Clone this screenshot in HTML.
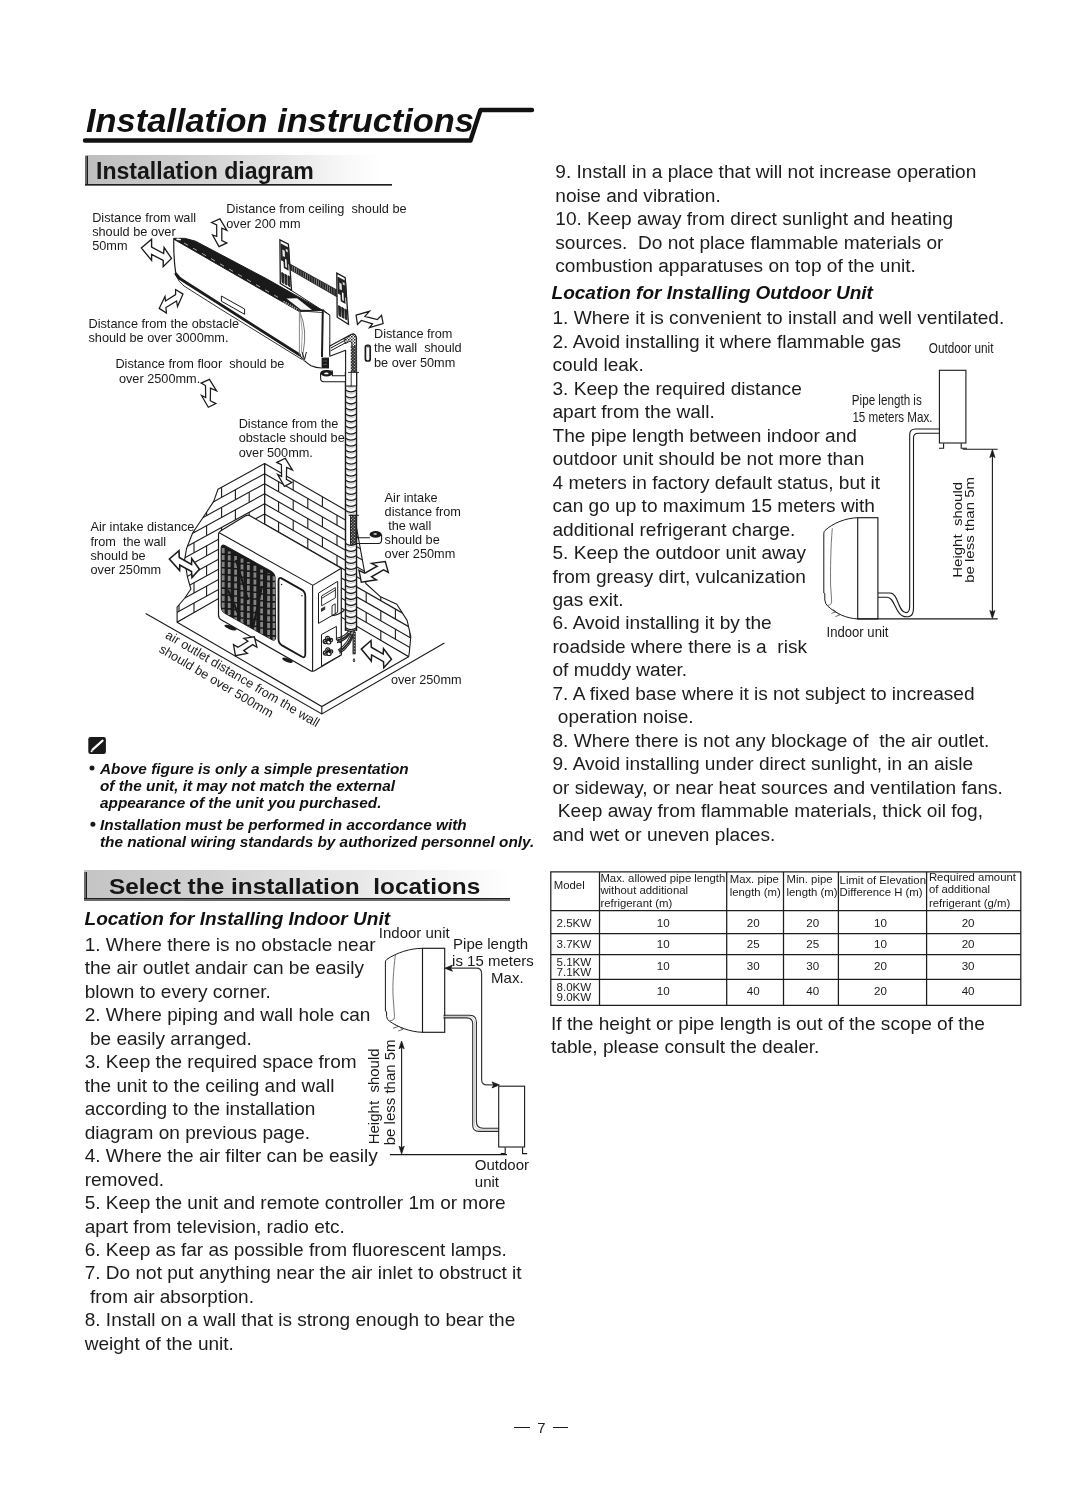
<!DOCTYPE html>
<html>
<head>
<meta charset="utf-8">
<title>Installation instructions</title>
<style>
html,body{margin:0;padding:0;background:#fff;}
body{filter:grayscale(1);}
body{width:1083px;height:1508px;position:relative;overflow:hidden;font-family:"Liberation Sans",sans-serif;color:#1a1a1a;}
.abs{position:absolute;white-space:pre;margin:0;}
.body{font-size:19.08px;line-height:23.42px;color:#1c1c1c;}
.h1{font-size:34px;font-weight:bold;font-style:italic;line-height:40px;color:#111;transform:scaleX(1.0118);transform-origin:0 0;}
.sec{position:absolute;box-sizing:border-box;}
.sec .bar{position:absolute;left:0;top:1.4px;bottom:0;width:2.8px;background:linear-gradient(90deg,#6a6a6a 0,#6a6a6a 68%,#1e1e1e 68%,#1e1e1e 100%);}
.sec .line{position:absolute;left:0;right:0;bottom:0;height:2.4px;}
.sec .txt{position:absolute;font-weight:bold;white-space:pre;color:#161616;}
.sub{font-size:19.05px;font-weight:bold;font-style:italic;line-height:23px;color:#111;}
.note{font-size:15.25px;font-weight:bold;font-style:italic;line-height:17.2px;color:#111;transform:scaleX(1.0063);transform-origin:0 0;}
svg{position:absolute;left:0;top:0;overflow:visible;}
svg text{font-family:"Liberation Sans",sans-serif;fill:#1a1a1a;}
</style>
</head>
<body>

<!-- ===== Title ===== -->
<div class="abs h1" id="title" style="left:86px;top:99.8px;">Installation instructions</div>
<svg width="1083" height="1508" viewBox="0 0 1083 1508" id="titleline">
  <path d="M85 140.5 L470.5 140.5 L480.5 110 L532 110" fill="none" stroke="#111" stroke-width="4.4" stroke-linecap="round" stroke-linejoin="round"/>
</svg>

<!-- ===== Section header 1 ===== -->
<div class="sec" id="sec1" style="left:85px;top:154.8px;width:307px;height:31.6px;background:linear-gradient(90deg,#bdbdbd 0%,#cccccc 30%,#e2e2e2 60%,#f8f8f8 85%,#ffffff 97%);">
  <div class="bar"></div>
  <div class="line" style="background:linear-gradient(180deg,#1e1e1e 0,#1e1e1e 38%,#6a6a6a 38%,#6a6a6a 100%);"></div>
  <div class="txt" style="left:11.2px;top:3.4px;font-size:23.3px;line-height:26px;transform:scaleX(0.99);transform-origin:0 0;">Installation diagram</div>
</div>

<!-- ===== Installation diagram (figure) ===== -->
<svg width="1083" height="1508" viewBox="0 0 1083 1508" id="diag1">
<!--DIAG1:start-->
<defs><clipPath id="clL"><polygon points="264.6,463.6 218.0,489.2 213.7,501.4 206.7,512.0 192.6,533.0 186.5,548.8 184.7,559.3 187.4,576.8 190.9,589.0 184.5,598.5 177.1,607.0 177.1,622.2 264.6,572.1"/></clipPath><clipPath id="clR"><polygon points="264.6,463.6 355.0,515.5 356.3,526.5 364.4,571.2 365.8,583.5 380.6,596.8 396.8,604.2 407.1,620.4 410.8,636.7 409.4,651.5 408.7,656.8 264.6,572.1"/></clipPath></defs>
<polygon points="264.6,463.6 218.0,489.2 213.7,501.4 206.7,512.0 192.6,533.0 186.5,548.8 184.7,559.3 187.4,576.8 190.9,589.0 184.5,598.5 177.1,607.0 177.1,622.2 264.6,572.1" fill="#fff" stroke="#1a1a1a" stroke-width="1.1" stroke-linejoin="round"/>
<polygon points="264.6,463.6 355.0,515.5 356.3,526.5 364.4,571.2 365.8,583.5 380.6,596.8 396.8,604.2 407.1,620.4 410.8,636.7 409.4,651.5 408.7,656.8 264.6,572.1" fill="#fff" stroke="#1a1a1a" stroke-width="1.1" stroke-linejoin="round"/>
<g clip-path="url(#clL)" stroke="#1a1a1a" stroke-width="1.1" fill="none"><path d="M264.6 473.7 L150.0 536.7"/><path d="M264.6 483.7 L150.0 546.7"/><path d="M264.6 493.8 L150.0 556.8"/><path d="M264.6 503.8 L150.0 566.8"/><path d="M264.6 513.9 L150.0 576.9"/><path d="M264.6 523.9 L150.0 586.9"/><path d="M264.6 534.0 L150.0 597.0"/><path d="M264.6 544.0 L150.0 607.0"/><path d="M264.6 554.1 L150.0 617.1"/><path d="M264.6 564.1 L150.0 627.1"/><path d="M264.6 574.2 L150.0 637.2"/><path d="M264.6 584.2 L150.0 647.2"/><path d="M264.6 594.2 L150.0 657.3"/><path d="M264.6 604.3 L150.0 667.3"/><path d="M264.6 614.4 L150.0 677.4"/><path d="M221.6 487.3 L221.6 497.3"/><path d="M206.6 505.6 L206.6 515.6"/><path d="M235.4 489.7 L235.4 499.8"/><path d="M179.0 520.7 L179.0 530.8"/><path d="M221.6 507.4 L221.6 517.4"/><path d="M249.2 492.2 L249.2 502.2"/><path d="M194.0 522.5 L194.0 532.6"/><path d="M166.4 537.7 L166.4 547.8"/><path d="M206.6 525.7 L206.6 535.7"/><path d="M235.4 509.8 L235.4 519.9"/><path d="M179.0 540.8 L179.0 550.9"/><path d="M221.6 527.5 L221.6 537.5"/><path d="M249.2 512.3 L249.2 522.3"/><path d="M194.0 542.6 L194.0 552.7"/><path d="M166.4 557.8 L166.4 567.9"/><path d="M206.6 545.8 L206.6 555.8"/><path d="M235.4 529.9 L235.4 540.0"/><path d="M179.0 560.9 L179.0 571.0"/><path d="M221.6 547.6 L221.6 557.6"/><path d="M249.2 532.4 L249.2 542.4"/><path d="M194.0 562.7 L194.0 572.8"/><path d="M166.4 577.9 L166.4 588.0"/><path d="M206.6 565.9 L206.6 575.9"/><path d="M235.4 550.0 L235.4 560.1"/><path d="M179.0 581.0 L179.0 591.1"/><path d="M221.6 567.7 L221.6 577.7"/><path d="M249.2 552.5 L249.2 562.5"/><path d="M194.0 582.8 L194.0 592.9"/><path d="M166.4 598.0 L166.4 608.1"/><path d="M206.6 586.0 L206.6 596.0"/><path d="M235.4 570.1 L235.4 580.2"/><path d="M179.0 601.1 L179.0 611.2"/><path d="M221.6 587.8 L221.6 597.8"/><path d="M249.2 572.6 L249.2 582.6"/><path d="M194.0 602.9 L194.0 613.0"/><path d="M166.4 618.1 L166.4 628.2"/><path d="M206.6 606.1 L206.6 616.1"/><path d="M235.4 590.2 L235.4 600.3"/><path d="M179.0 621.2 L179.0 631.3"/><path d="M221.6 607.9 L221.6 617.9"/><path d="M249.2 592.7 L249.2 602.7"/><path d="M194.0 623.0 L194.0 633.1"/><path d="M166.4 638.2 L166.4 648.3"/><path d="M206.6 626.2 L206.6 636.2"/><path d="M235.4 610.3 L235.4 620.4"/><path d="M179.0 641.3 L179.0 651.4"/><path d="M221.6 628.0 L221.6 638.0"/><path d="M249.2 612.8 L249.2 622.8"/><path d="M194.0 643.1 L194.0 653.2"/><path d="M166.4 658.3 L166.4 668.4"/><path d="M206.6 646.2 L206.6 656.3"/><path d="M235.4 630.4 L235.4 640.5"/><path d="M179.0 661.4 L179.0 671.5"/></g>
<g clip-path="url(#clR)" stroke="#1a1a1a" stroke-width="1.1" fill="none"><path d="M264.6 473.7 L430.0 568.6"/><path d="M264.6 483.7 L430.0 578.6"/><path d="M264.6 493.8 L430.0 588.7"/><path d="M264.6 503.8 L430.0 598.7"/><path d="M264.6 513.9 L430.0 608.8"/><path d="M264.6 523.9 L430.0 618.8"/><path d="M264.6 534.0 L430.0 628.9"/><path d="M264.6 544.0 L430.0 638.9"/><path d="M264.6 554.1 L430.0 649.0"/><path d="M264.6 564.1 L430.0 659.0"/><path d="M264.6 574.2 L430.0 669.1"/><path d="M264.6 584.2 L430.0 679.1"/><path d="M264.6 594.2 L430.0 689.2"/><path d="M264.6 604.3 L430.0 699.2"/><path d="M264.6 614.4 L430.0 709.3"/><path d="M264.6 624.4 L430.0 719.3"/><path d="M264.6 634.5 L430.0 729.4"/><path d="M264.6 644.5 L430.0 739.4"/><path d="M264.6 654.6 L430.0 749.5"/><path d="M293.2 480.0 L293.2 490.1"/><path d="M322.4 496.8 L322.4 506.8"/><path d="M351.6 513.5 L351.6 523.6"/><path d="M380.8 530.3 L380.8 540.3"/><path d="M410.0 547.1 L410.0 557.1"/><path d="M439.2 563.8 L439.2 573.9"/><path d="M278.6 481.7 L278.6 491.7"/><path d="M307.8 498.4 L307.8 508.5"/><path d="M337.0 515.2 L337.0 525.3"/><path d="M366.2 532.0 L366.2 542.0"/><path d="M395.4 548.7 L395.4 558.8"/><path d="M424.6 565.5 L424.6 575.5"/><path d="M293.2 500.1 L293.2 510.2"/><path d="M322.4 516.9 L322.4 526.9"/><path d="M351.6 533.6 L351.6 543.7"/><path d="M380.8 550.4 L380.8 560.4"/><path d="M410.0 567.2 L410.0 577.2"/><path d="M439.2 583.9 L439.2 594.0"/><path d="M278.6 501.8 L278.6 511.8"/><path d="M307.8 518.5 L307.8 528.6"/><path d="M337.0 535.3 L337.0 545.4"/><path d="M366.2 552.1 L366.2 562.1"/><path d="M395.4 568.8 L395.4 578.9"/><path d="M424.6 585.6 L424.6 595.6"/><path d="M293.2 520.2 L293.2 530.3"/><path d="M322.4 537.0 L322.4 547.0"/><path d="M351.6 553.7 L351.6 563.8"/><path d="M380.8 570.5 L380.8 580.5"/><path d="M410.0 587.3 L410.0 597.3"/><path d="M439.2 604.0 L439.2 614.1"/><path d="M278.6 521.9 L278.6 531.9"/><path d="M307.8 538.6 L307.8 548.7"/><path d="M337.0 555.4 L337.0 565.5"/><path d="M366.2 572.2 L366.2 582.2"/><path d="M395.4 588.9 L395.4 599.0"/><path d="M424.6 605.7 L424.6 615.7"/><path d="M293.2 540.3 L293.2 550.4"/><path d="M322.4 557.1 L322.4 567.1"/><path d="M351.6 573.8 L351.6 583.9"/><path d="M380.8 590.6 L380.8 600.6"/><path d="M410.0 607.4 L410.0 617.4"/><path d="M439.2 624.1 L439.2 634.2"/><path d="M278.6 542.0 L278.6 552.0"/><path d="M307.8 558.7 L307.8 568.8"/><path d="M337.0 575.5 L337.0 585.6"/><path d="M366.2 592.3 L366.2 602.3"/><path d="M395.4 609.0 L395.4 619.1"/><path d="M424.6 625.8 L424.6 635.8"/><path d="M293.2 560.4 L293.2 570.5"/><path d="M322.4 577.2 L322.4 587.2"/><path d="M351.6 593.9 L351.6 604.0"/><path d="M380.8 610.7 L380.8 620.7"/><path d="M410.0 627.5 L410.0 637.5"/><path d="M439.2 644.2 L439.2 654.3"/><path d="M278.6 562.1 L278.6 572.1"/><path d="M307.8 578.8 L307.8 588.9"/><path d="M337.0 595.6 L337.0 605.7"/><path d="M366.2 612.4 L366.2 622.4"/><path d="M395.4 629.1 L395.4 639.2"/><path d="M424.6 645.9 L424.6 655.9"/><path d="M293.2 580.5 L293.2 590.6"/><path d="M322.4 597.3 L322.4 607.3"/><path d="M351.6 614.0 L351.6 624.1"/><path d="M380.8 630.8 L380.8 640.8"/><path d="M410.0 647.6 L410.0 657.6"/><path d="M439.2 664.3 L439.2 674.4"/><path d="M278.6 582.2 L278.6 592.2"/><path d="M307.8 598.9 L307.8 609.0"/><path d="M337.0 615.7 L337.0 625.8"/><path d="M366.2 632.5 L366.2 642.5"/><path d="M395.4 649.2 L395.4 659.3"/><path d="M424.6 666.0 L424.6 676.0"/><path d="M293.2 600.6 L293.2 610.7"/><path d="M322.4 617.4 L322.4 627.4"/><path d="M351.6 634.1 L351.6 644.2"/><path d="M380.8 650.9 L380.8 660.9"/><path d="M410.0 667.7 L410.0 677.7"/><path d="M439.2 684.4 L439.2 694.5"/><path d="M278.6 602.3 L278.6 612.3"/><path d="M307.8 619.0 L307.8 629.1"/><path d="M337.0 635.8 L337.0 645.9"/><path d="M366.2 652.6 L366.2 662.6"/><path d="M395.4 669.3 L395.4 679.4"/><path d="M424.6 686.1 L424.6 696.1"/><path d="M293.2 620.7 L293.2 630.8"/><path d="M322.4 637.5 L322.4 647.5"/><path d="M351.6 654.2 L351.6 664.3"/><path d="M380.8 671.0 L380.8 681.0"/><path d="M410.0 687.8 L410.0 697.8"/><path d="M439.2 704.5 L439.2 714.6"/><path d="M278.6 622.4 L278.6 632.4"/><path d="M307.8 639.1 L307.8 649.2"/><path d="M337.0 655.9 L337.0 666.0"/><path d="M366.2 672.7 L366.2 682.7"/><path d="M395.4 689.4 L395.4 699.5"/><path d="M424.6 706.2 L424.6 716.2"/><path d="M293.2 640.8 L293.2 650.9"/><path d="M322.4 657.6 L322.4 667.6"/><path d="M351.6 674.3 L351.6 684.4"/><path d="M380.8 691.1 L380.8 701.1"/><path d="M410.0 707.9 L410.0 717.9"/><path d="M439.2 724.6 L439.2 734.7"/><path d="M278.6 642.5 L278.6 652.5"/><path d="M307.8 659.2 L307.8 669.3"/><path d="M337.0 676.0 L337.0 686.1"/><path d="M366.2 692.8 L366.2 702.8"/><path d="M395.4 709.5 L395.4 719.6"/><path d="M424.6 726.3 L424.6 736.3"/><path d="M293.2 660.9 L293.2 671.0"/><path d="M322.4 677.7 L322.4 687.7"/><path d="M351.6 694.4 L351.6 704.5"/><path d="M380.8 711.2 L380.8 721.2"/><path d="M410.0 728.0 L410.0 738.0"/><path d="M439.2 744.7 L439.2 754.8"/><path d="M278.6 662.6 L278.6 672.6"/><path d="M307.8 679.3 L307.8 689.4"/><path d="M337.0 696.1 L337.0 706.2"/><path d="M366.2 712.9 L366.2 722.9"/><path d="M395.4 729.6 L395.4 739.7"/><path d="M424.6 746.4 L424.6 756.4"/></g>
<path d="M264.6 463.6 L264.6 573.7" stroke="#1a1a1a" stroke-width="1.2"/>
<path d="M145.7 613.4 L321.8 713.9 L444.4 643 M177.1 622.2 L321.8 706.5 L408.5 656.8 M321.8 706.5 L321.8 713.9" fill="none" stroke="#1a1a1a" stroke-width="1.1"/>
<path d="M218.5 534.5 Q218.5 532.3 220.5 531 L246 515.6 Q248 514.6 250 515.8 L341.3 568.3 L341.3 655.1 L315 670.6 Q312.6 672 310 670.4 L221.5 620 Q218.5 618.4 218.5 615 Z" fill="#fff" stroke="#1a1a1a" stroke-width="1.2" stroke-linejoin="round"/>
<path d="M219.2 532.8 L311.5 584.6 Q312.8 585.4 314 584.6 L341.3 568.3 M312.6 585.6 L312.6 671.2" fill="none" stroke="#1a1a1a" stroke-width="1.1"/>
<ellipse cx="230.5" cy="627.6" rx="6.5" ry="1.9" transform="rotate(20 230.5 627.6)" fill="#1a1a1a"/>
<ellipse cx="287.5" cy="660.2" rx="5.5" ry="1.9" transform="rotate(20 287.5 660.2)" fill="#1a1a1a"/>
<defs><clipPath id="clG"><path id="grill" d="M221.2 548.5 Q221.2 543.8 225 545.8 L271 571.3 Q275 573.8 275 578 L275.6 637 Q275.6 641.5 271.8 639.4 L225.5 613.5 Q221.2 611 221.2 606.5 Z"/></clipPath></defs>
<path d="M221.2 548.5 Q221.2 543.8 225 545.8 L271 571.3 Q275 573.8 275 578 L275.6 637 Q275.6 641.5 271.8 639.4 L225.5 613.5 Q221.2 611 221.2 606.5 Z" fill="#1c1a1a" stroke="#1a1a1a" stroke-width="1.2"/>
<g clip-path="url(#clG)"><path d="M223.2 548.1 L223.2 614.1" stroke="#838383" stroke-width="2.8" stroke-dasharray="5.2 1.6" stroke-dashoffset="0.0"/><path d="M229.2 551.4 L229.2 617.4" stroke="#838383" stroke-width="2.8" stroke-dasharray="5.2 1.6" stroke-dashoffset="2.9"/><path d="M235.6 555.0 L235.6 621.0" stroke="#838383" stroke-width="2.8" stroke-dasharray="5.2 1.6" stroke-dashoffset="5.8"/><path d="M242.0 558.5 L242.0 624.5" stroke="#838383" stroke-width="2.8" stroke-dasharray="5.2 1.6" stroke-dashoffset="0.9"/><path d="M248.4 562.1 L248.4 628.1" stroke="#838383" stroke-width="2.8" stroke-dasharray="5.2 1.6" stroke-dashoffset="3.8"/><path d="M254.9 565.7 L254.9 631.7" stroke="#838383" stroke-width="2.8" stroke-dasharray="5.2 1.6" stroke-dashoffset="6.7"/><path d="M261.6 569.4 L261.6 635.4" stroke="#838383" stroke-width="2.8" stroke-dasharray="5.2 1.6" stroke-dashoffset="1.8"/><path d="M268.6 573.3 L268.6 639.3" stroke="#838383" stroke-width="2.8" stroke-dasharray="5.2 1.6" stroke-dashoffset="4.7"/><path d="M274.0 576.3 L274.0 642.3" stroke="#838383" stroke-width="2.8" stroke-dasharray="5.2 1.6" stroke-dashoffset="7.6"/><path d="M236 560 L248 600 M262 586 L252 632 M228 590 L240 618" stroke="#1c1a1a" stroke-width="2.2"/></g>
<path d="M278.5 581 Q278.5 576.6 282 578.6 L301.5 589.6 Q305.3 591.8 305.3 596 L305.3 654 Q305.3 658.8 301.6 656.6 L282 645.4 Q278.5 643.2 278.5 639 Z" fill="#fff" stroke="#1a1a1a" stroke-width="1.8"/>
<circle cx="281.6" cy="584.5" r="0.7" fill="#1a1a1a"/><circle cx="302" cy="595.8" r="0.7" fill="#1a1a1a"/>
<path d="M318.5 593.1 L337.7 581.3 L337.7 612.3 L318.5 623.4 Z" fill="#fff" stroke="#1a1a1a" stroke-width="1"/>
<path d="M321.6 596 L335.4 587.6 L335.4 597.8 L321.6 605.8 Z M321.6 598.4 L335.4 590" fill="none" stroke="#1a1a1a" stroke-width="0.9"/>
<path d="M321 608.6 L325.2 606.2 L325.2 609.6 L321 612 Z" fill="#333"/>
<path d="M332 605.8 L332 615.5 M335.2 603.8 L335.2 613.6 M332 605.8 L335.2 603.8" fill="none" stroke="#1a1a1a" stroke-width="0.9"/>
<path d="M332 615.5 Q338 615.5 344 610.5" fill="none" stroke="#1a1a1a" stroke-width="1.3"/>
<path d="M321.5 634.5 L336.4 626.4 L336.4 640 L341.2 643 L341.2 654.8 L321.5 666 Z" fill="#fff" stroke="#1a1a1a" stroke-width="1"/>
<g stroke="#1a1a1a" stroke-width="1.2" fill="#fff"><circle cx="325.4" cy="641.5" r="2.2"/><circle cx="328.8" cy="641.9" r="2.1"/><circle cx="327.6" cy="638.3" r="2"/><circle cx="331.0" cy="639.9" r="1.6"/></g>
<path d="M324.2 642.5 l3.4 -3 M327.0 637.9 l3 2.2 M329.2 641.3 l2 -2.4" stroke="#1a1a1a" stroke-width="1.6"/>
<g stroke="#1a1a1a" stroke-width="1.2" fill="#fff"><circle cx="325.6" cy="653.0" r="2.2"/><circle cx="329.0" cy="653.4" r="2.1"/><circle cx="327.8" cy="649.8" r="2"/><circle cx="331.2" cy="651.4" r="1.6"/></g>
<path d="M324.4 654.0 l3.4 -3 M327.2 649.4 l3 2.2 M329.4 652.8 l2 -2.4" stroke="#1a1a1a" stroke-width="1.6"/>
<rect x="345.5" y="384" width="11.0" height="247" fill="#fff"/>
<path d="M345.5 372 L345.5 631 M356.5 372 L356.5 631" stroke="#1a1a1a" stroke-width="1.45" fill="none"/>
<g fill="none" stroke="#b5b5b5" stroke-width="0.8"><path d="M347.0 386.5 Q351.0 389.5 355.0 386.5"/><path d="M347.0 392.5 Q351.0 395.5 355.0 392.5"/><path d="M347.0 398.5 Q351.0 401.5 355.0 398.5"/><path d="M347.0 404.6 Q351.0 407.6 355.0 404.6"/><path d="M347.0 410.6 Q351.0 413.6 355.0 410.6"/><path d="M347.0 416.6 Q351.0 419.6 355.0 416.6"/><path d="M347.0 422.6 Q351.0 425.6 355.0 422.6"/><path d="M347.0 428.6 Q351.0 431.6 355.0 428.6"/><path d="M347.0 434.7 Q351.0 437.7 355.0 434.7"/><path d="M347.0 440.7 Q351.0 443.7 355.0 440.7"/><path d="M347.0 446.7 Q351.0 449.7 355.0 446.7"/><path d="M347.0 452.7 Q351.0 455.7 355.0 452.7"/><path d="M347.0 458.7 Q351.0 461.7 355.0 458.7"/><path d="M347.0 464.8 Q351.0 467.8 355.0 464.8"/><path d="M347.0 470.8 Q351.0 473.8 355.0 470.8"/><path d="M347.0 476.8 Q351.0 479.8 355.0 476.8"/><path d="M347.0 482.8 Q351.0 485.8 355.0 482.8"/><path d="M347.0 488.8 Q351.0 491.8 355.0 488.8"/><path d="M347.0 494.9 Q351.0 497.9 355.0 494.9"/><path d="M347.0 500.9 Q351.0 503.9 355.0 500.9"/><path d="M347.0 506.9 Q351.0 509.9 355.0 506.9"/><path d="M347.0 512.9 Q351.0 515.9 355.0 512.9"/></g>
<g fill="none" stroke="#1a1a1a" stroke-width="1.25"><path d="M345.5 384.0 Q351.0 387.8 356.5 384.0"/><path d="M345.5 390.0 Q351.0 393.8 356.5 390.0"/><path d="M345.5 396.0 Q351.0 399.8 356.5 396.0"/><path d="M345.5 402.1 Q351.0 405.9 356.5 402.1"/><path d="M345.5 408.1 Q351.0 411.9 356.5 408.1"/><path d="M345.5 414.1 Q351.0 417.9 356.5 414.1"/><path d="M345.5 420.1 Q351.0 423.9 356.5 420.1"/><path d="M345.5 426.1 Q351.0 429.9 356.5 426.1"/><path d="M345.5 432.2 Q351.0 436.0 356.5 432.2"/><path d="M345.5 438.2 Q351.0 442.0 356.5 438.2"/><path d="M345.5 444.2 Q351.0 448.0 356.5 444.2"/><path d="M345.5 450.2 Q351.0 454.0 356.5 450.2"/><path d="M345.5 456.2 Q351.0 460.0 356.5 456.2"/><path d="M345.5 462.3 Q351.0 466.1 356.5 462.3"/><path d="M345.5 468.3 Q351.0 472.1 356.5 468.3"/><path d="M345.5 474.3 Q351.0 478.1 356.5 474.3"/><path d="M345.5 480.3 Q351.0 484.1 356.5 480.3"/><path d="M345.5 486.3 Q351.0 490.1 356.5 486.3"/><path d="M345.5 492.4 Q351.0 496.2 356.5 492.4"/><path d="M345.5 498.4 Q351.0 502.2 356.5 498.4"/><path d="M345.5 504.4 Q351.0 508.2 356.5 504.4"/><path d="M345.5 510.4 Q351.0 514.2 356.5 510.4"/></g>
<g fill="none" stroke="#b5b5b5" stroke-width="0.8"><path d="M347.0 545.9 Q351.0 548.9 355.0 545.9"/><path d="M347.0 551.9 Q351.0 554.9 355.0 551.9"/><path d="M347.0 557.9 Q351.0 560.9 355.0 557.9"/><path d="M347.0 564.0 Q351.0 567.0 355.0 564.0"/><path d="M347.0 570.0 Q351.0 573.0 355.0 570.0"/><path d="M347.0 576.0 Q351.0 579.0 355.0 576.0"/><path d="M347.0 582.0 Q351.0 585.0 355.0 582.0"/><path d="M347.0 588.0 Q351.0 591.0 355.0 588.0"/><path d="M347.0 594.1 Q351.0 597.1 355.0 594.1"/><path d="M347.0 600.1 Q351.0 603.1 355.0 600.1"/><path d="M347.0 606.1 Q351.0 609.1 355.0 606.1"/><path d="M347.0 612.1 Q351.0 615.1 355.0 612.1"/><path d="M347.0 618.1 Q351.0 621.1 355.0 618.1"/><path d="M347.0 624.2 Q351.0 627.2 355.0 624.2"/><path d="M347.0 630.2 Q351.0 633.2 355.0 630.2"/></g>
<g fill="none" stroke="#1a1a1a" stroke-width="1.25"><path d="M345.5 543.4 Q351.0 547.2 356.5 543.4"/><path d="M345.5 549.4 Q351.0 553.2 356.5 549.4"/><path d="M345.5 555.4 Q351.0 559.2 356.5 555.4"/><path d="M345.5 561.5 Q351.0 565.3 356.5 561.5"/><path d="M345.5 567.5 Q351.0 571.3 356.5 567.5"/><path d="M345.5 573.5 Q351.0 577.3 356.5 573.5"/><path d="M345.5 579.5 Q351.0 583.3 356.5 579.5"/><path d="M345.5 585.5 Q351.0 589.3 356.5 585.5"/><path d="M345.5 591.6 Q351.0 595.4 356.5 591.6"/><path d="M345.5 597.6 Q351.0 601.4 356.5 597.6"/><path d="M345.5 603.6 Q351.0 607.4 356.5 603.6"/><path d="M345.5 609.6 Q351.0 613.4 356.5 609.6"/><path d="M345.5 615.6 Q351.0 619.4 356.5 615.6"/><path d="M345.5 621.7 Q351.0 625.5 356.5 621.7"/><path d="M345.5 627.7 Q351.0 631.5 356.5 627.7"/></g>
<path d="M345.5 629.5 Q351.0 633 356.5 629.5" fill="none" stroke="#1a1a1a" stroke-width="1.1"/>
<defs><pattern id="spk" width="3.4" height="3" patternUnits="userSpaceOnUse"><rect width="3.4" height="3" fill="#2a2a2a"/><rect x="0.3" y="0.2" width="1.3" height="1" fill="#eee"/><rect x="2" y="1.7" width="1.1" height="0.9" fill="#ddd"/></pattern></defs>
<rect x="350.5" y="515.3" width="5.6" height="29" fill="url(#spk)" stroke="#1a1a1a" stroke-width="0.9"/>
<path d="M348.6 515.3 L358.9 515.3 M345.5 511.5 L345.5 545" stroke="#1a1a1a" stroke-width="1"/>
<path d="M356.6 537.7 L370 537.7 M356.6 543.5 L378.5 543.5 Q381.6 543.3 381.6 539.5 L381.6 534.6" fill="none" stroke="#1a1a1a" stroke-width="1.1"/>
<ellipse cx="375.6" cy="534.4" rx="6" ry="3.3" fill="#1a1a1a"/>
<ellipse cx="375.2" cy="534" rx="1.8" ry="0.8" fill="#fff"/>
<path d="M348.5 631 Q345 636.5 336 638.5 M351 631 Q347.5 640.5 337 642.6" fill="none" stroke="#1a1a1a" stroke-width="1.1"/>
<path d="M351.5 631 Q349.5 642 338 650.2 M354.2 631 Q352 646 339.5 653.4" fill="none" stroke="#1a1a1a" stroke-width="1.1"/>
<path d="M349 633 Q346 638.5 337 640.5 M352.4 634 Q350 644.5 339 651.6" fill="none" stroke="#2a2a2a" stroke-width="2"/>
<rect x="352.9" y="632" width="2.4" height="22" fill="url(#spk)" stroke="#1a1a1a" stroke-width="0.6"/>
<path d="M354 658.6 q-1.6 2.6 0 3.4 q1.6 -0.8 0 -3.4Z" fill="#fff" stroke="#1a1a1a" stroke-width="0.9"/>
<defs><pattern id="hat" width="2.2" height="6" patternUnits="userSpaceOnUse" patternTransform="skewY(29)"><rect width="2.2" height="6" fill="#8a8a8a"/><rect width="1.4" height="6" fill="#1e1e1e"/></pattern></defs>
<path d="M289.9 264 L340.2 291.8 L338.5 297.7 L289.9 269.6 Z" fill="url(#hat)" stroke="#1a1a1a" stroke-width="0.8"/>
<path d="M279.9 239.9 L288.4 244.2 L291.5 290.2 L280.3 283.5 Z" fill="#fff" stroke="#1a1a1a" stroke-width="1.3"/>
<path d="M336.8 273.1 L345.2 277.6 L348.5 324.3 L337.2 317.2 Z" fill="#fff" stroke="#1a1a1a" stroke-width="1.3"/>
<path d="M280.5 243.3 l8.6 4.5 l1.1 17.5 l-9.2 -5Z" fill="#242424"/>
<path d="M282.3 249.4 l2.4 1.3 l0.4 7 l-2.4 -1.3Z" fill="#e8e8e8"/>
<path d="M285.7 248.7 l2 1.1 l0.2 2.6 l-2 -1.1Z" fill="#ddd"/>
<path d="M284.1 257.5 l3.2 1.8 l0.5 10 l-3.2 -1.8Z" fill="#fff" stroke="#222" stroke-width="1.6"/>
<path d="M281.7 272.5 l1.7 0.9 l0.4 10 l-1.7 -0.9Z M284.8 274.1 l1.7 0.9 l0.4 10 l-1.7 -0.9Z M287.9 275.7 l1.7 0.9 l0.4 10 l-1.7 -0.9Z" fill="#222" stroke="#222" stroke-width="1"/>
<path d="M337.4 276.5 l8.6 4.5 l1.1 17.5 l-9.2 -5Z" fill="#242424"/>
<path d="M339.2 282.6 l2.4 1.3 l0.4 7 l-2.4 -1.3Z" fill="#e8e8e8"/>
<path d="M342.6 281.9 l2 1.1 l0.2 2.6 l-2 -1.1Z" fill="#ddd"/>
<path d="M341.0 290.7 l3.2 1.8 l0.5 10 l-3.2 -1.8Z" fill="#fff" stroke="#222" stroke-width="1.6"/>
<path d="M338.6 305.7 l1.7 0.9 l0.4 10 l-1.7 -0.9Z M341.7 307.3 l1.7 0.9 l0.4 10 l-1.7 -0.9Z M344.8 308.9 l1.7 0.9 l0.4 10 l-1.7 -0.9Z" fill="#222" stroke="#222" stroke-width="1"/>
<path d="M173.8 238.4 Q180 237.6 191 240.2 L300 296 L322.8 309.4 L329.8 315.2 L329.8 354.8 L328.8 368 L321.6 368 Q311 367 303 360 L299.4 355.5 L180 286 Q175.5 281 175.6 273 Q173.6 256 173.8 238.4Z" fill="#fff" stroke="none"/>
<path d="M287 287.6 L330 315.3" stroke="#1a1a1a" stroke-width="1" fill="none"/>
<path d="M173.8 238.3 Q185 237 195.5 241.2 L266.6 278.8 L322.4 310.4 L299.4 311.6 L174.2 239.4 Z" fill="#1c1a1a" stroke="#1a1a1a" stroke-width="1"/>
<ellipse cx="178.6" cy="239.4" rx="2.6" ry="0.8" transform="rotate(8 178.6 239.4)" fill="#fff"/>
<path d="M184 243 L283 300.2" stroke="#a8a8a8" stroke-width="1" stroke-dasharray="4.6 5.8" fill="none"/>
<path d="M286.5 298.4 L297 298.2 L312 310 L301 309.8Z" fill="#f6f6f6"/>
<path d="M283.5 301.5 L298.5 310" stroke="#aaa" stroke-width="2" stroke-dasharray="1.2 1.2"/>
<path d="M173.8 238.4 Q173.4 258 175.8 273.6 Q176.4 277.4 180 279.6" fill="none" stroke="#1a1a1a" stroke-width="1.2"/>
<path d="M176 274 Q178.5 278.2 184 281.2 L299.4 354.8" fill="none" stroke="#1a1a1a" stroke-width="2.8" stroke-linecap="round"/>
<path d="M176.6 276 Q178 281.5 184 286 L222 310 L302.2 359.6" fill="none" stroke="#1a1a1a" stroke-width="0.9"/>
<path d="M221.4 296 L244.6 309 L244.6 314.3 L221.4 301.2 Z" fill="#fff" stroke="#1a1a1a" stroke-width="1"/>
<path d="M299.4 310.4 L299.4 355" stroke="#888" stroke-width="1"/>
<path d="M299.4 310.8 L322.4 312.6" stroke="#333" stroke-width="0.9"/>
<path d="M322.8 309.6 L329.8 315.2 L329.8 355" fill="none" stroke="#1a1a1a" stroke-width="1"/>
<path d="M322.8 309.6 L322 357" stroke="#1a1a1a" stroke-width="2"/>
<path d="M299.4 354.8 Q303 360.5 311 365.8 Q316 368 321.6 368" fill="none" stroke="#1a1a1a" stroke-width="1.2"/>
<path d="M300 312 Q307.5 330 303.2 352 Q301.5 358 305 361" fill="none" stroke="#777" stroke-width="1"/>
<path d="M300.2 312 Q303.8 332 301.4 352" fill="none" stroke="#999" stroke-width="0.9"/>
<path d="M302 352 L304.6 359.5 L306.4 352" fill="none" stroke="#1a1a1a" stroke-width="1"/>
<rect x="321.6" y="357.6" width="7.4" height="10.8" fill="#1c1c1c"/>
<path d="M323.4 361 h3.6 M323.4 364.6 h3.6" stroke="#888" stroke-width="0.6"/>
<path d="M320.6 374.5 Q320.6 371 324 371 L332.4 371 L332.4 375.8 L345.6 375.8 L345.6 381.8 L324 381.8 Q320.6 381.8 320.6 378Z" fill="#fff" stroke="#1a1a1a" stroke-width="1.1"/>
<ellipse cx="326.6" cy="373.2" rx="6" ry="3.2" fill="#1a1a1a"/>
<ellipse cx="326.4" cy="373.4" rx="2.2" ry="0.9" fill="#fff"/>
<path d="M329.8 346 L351.5 334.2 Q355.5 332.8 356.5 338 L356.6 386 L345.6 386 L345.6 350.2 L329.8 356.2Z" fill="#fff" stroke="#1a1a1a" stroke-width="1.1" stroke-linejoin="round"/>
<path d="M331 348 L350 337.5 Q353.5 336.5 353.8 340 M330.6 350.8 L347 342" fill="none" stroke="#1a1a1a" stroke-width="1"/>
<defs><pattern id="spk2" width="3" height="3" patternUnits="userSpaceOnUse"><rect width="3" height="3" fill="#fff"/><rect x="0" y="0" width="1.6" height="1.5" fill="#222"/><rect x="1.6" y="1.6" width="1.3" height="1.3" fill="#333"/></pattern><pattern id="spk3" width="3.4" height="3" patternUnits="userSpaceOnUse"><rect width="3.4" height="3" fill="#262626"/><rect x="0.3" y="0.2" width="1.3" height="1" fill="#eee"/><rect x="2" y="1.7" width="1.1" height="0.9" fill="#ddd"/></pattern></defs>
<path d="M344 339 L351.6 334.6 Q355.8 333.4 356.4 338 L356.5 371.6 L351.8 371.6 L351.8 343 Q351.6 340.4 349 341.6 L345.4 343.6Z" fill="url(#spk2)" stroke="#1a1a1a" stroke-width="0.9"/>
<rect x="350.8" y="346" width="5.6" height="26" fill="url(#spk3)"/>
<path d="M348 372.4 L359 372.4 M351.2 372 L351.2 386" stroke="#1a1a1a" stroke-width="0.9"/>
<rect x="365.4" y="345.4" width="4.8" height="15.6" rx="2" fill="#fff" stroke="#1a1a1a" stroke-width="1.7"/>
<ellipse cx="368" cy="346.6" rx="1.6" ry="1" fill="#555"/>
<polygon points="219.9,218.9 211.6,222.5 216.7,224.9 216.7,236.4 212.6,235.0 219.0,246.6 226.9,242.9 221.8,240.5 221.8,228.1 226.9,230.4" fill="#fff" stroke="#1a1a1a" stroke-width="1.25" stroke-linejoin="miter"/>
<polygon points="141.3,247.9 151.6,239.3 151.6,247.0 163.6,253.5 164.1,247.5 171.5,258.4 163.2,266.7 163.2,260.4 151.6,254.4 151.6,260.4" fill="#fff" stroke="#1a1a1a" stroke-width="1.35" stroke-linejoin="miter"/>
<polygon points="159.2,308.4 165.0,296.4 165.5,301.0 175.6,294.6 175.6,289.5 183.0,294.1 177.5,306.6 176.6,301.0 165.9,307.5 166.4,313.0" fill="#fff" stroke="#1a1a1a" stroke-width="1.25" stroke-linejoin="miter"/>
<polygon points="356.1,315.2 369.5,311.3 364.9,316.4 377.3,319.6 381.5,315.2 383.1,323.5 369.5,327.5 372.5,323.8 361.4,320.5 357.5,324.5" fill="#fff" stroke="#1a1a1a" stroke-width="1.25" stroke-linejoin="miter"/>
<polygon points="201.1,383.1 209.4,379.4 216.6,390.9 210.5,388.3 210.3,400.7 215.9,403.6 208.3,407.3 201.5,395.5 205.7,397.5 205.5,385.5" fill="#fff" stroke="#1a1a1a" stroke-width="1.25" stroke-linejoin="miter"/>
<polygon points="276.8,462.4 285.3,458.3 292.5,470.1 286.6,467.4 286.4,479.4 291.8,482.5 284.4,486.4 277.6,474.4 281.6,476.4 281.4,464.6" fill="#fff" stroke="#1a1a1a" stroke-width="1.25" stroke-linejoin="miter"/>
<polygon points="169.4,559.0 179.0,550.7 179.3,557.5 191.5,564.4 191.7,558.5 199.4,569.2 192.0,577.6 191.5,571.5 179.8,565.1 179.6,570.5" fill="#fff" stroke="#1a1a1a" stroke-width="1.60" stroke-linejoin="miter"/>
<polygon points="359.0,570.3 364.8,573.1 377.2,566.2 371.5,563.4 385.3,561.5 388.3,572.4 383.5,569.9 371.5,576.8 376.5,579.8 361.3,582.3" fill="#fff" stroke="#1a1a1a" stroke-width="1.40" stroke-linejoin="miter"/>
<polygon points="233.5,644.6 237.9,647.2 247.9,641.2 243.9,638.4 254.3,636.8 256.9,647.2 252.7,644.6 243.7,650.6 247.4,653.4 235.4,655.7" fill="#fff" stroke="#1a1a1a" stroke-width="1.30" stroke-linejoin="miter"/>
<polygon points="361.3,649.1 371.0,640.5 371.3,647.2 383.2,654.1 383.5,648.5 391.5,659.3 383.8,667.7 383.5,661.6 371.6,654.9 371.3,661.0" fill="#fff" stroke="#1a1a1a" stroke-width="1.50" stroke-linejoin="miter"/>
<text x="92.2" y="221.9" font-size="12.72" xml:space="preserve">Distance from wall</text>
<text x="92.2" y="236.2" font-size="12.72" xml:space="preserve">should be over</text>
<text x="92.2" y="250.4" font-size="12.72" xml:space="preserve">50mm</text>
<text x="226.3" y="213.2" font-size="12.72" xml:space="preserve">Distance from ceiling  should be</text>
<text x="226.3" y="227.5" font-size="12.72" xml:space="preserve">over 200 mm</text>
<text x="88.5" y="327.9" font-size="12.72" xml:space="preserve">Distance from the obstacle</text>
<text x="88.5" y="342.1" font-size="12.72" xml:space="preserve">should be over 3000mm.</text>
<text x="115.4" y="368.3" font-size="12.72" xml:space="preserve">Distance from floor  should be</text>
<text x="115.4" y="382.5" font-size="12.72" xml:space="preserve"> over 2500mm.</text>
<text x="374.0" y="338.1" font-size="12.72" xml:space="preserve">Distance from</text>
<text x="374.0" y="352.3" font-size="12.72" xml:space="preserve">the wall  should</text>
<text x="374.0" y="366.6" font-size="12.72" xml:space="preserve">be over 50mm</text>
<text x="238.7" y="428.0" font-size="12.72" xml:space="preserve">Distance from the</text>
<text x="238.7" y="442.2" font-size="12.72" xml:space="preserve">obstacle should be</text>
<text x="238.7" y="456.5" font-size="12.72" xml:space="preserve">over 500mm.</text>
<text x="384.6" y="501.7" font-size="12.72" xml:space="preserve">Air intake</text>
<text x="384.6" y="515.8" font-size="12.72" xml:space="preserve">distance from</text>
<text x="384.6" y="529.9" font-size="12.72" xml:space="preserve"> the wall</text>
<text x="384.6" y="544.0" font-size="12.72" xml:space="preserve">should be</text>
<text x="384.6" y="558.1" font-size="12.72" xml:space="preserve">over 250mm</text>
<text x="90.5" y="531.2" font-size="12.72" xml:space="preserve">Air intake distance</text>
<text x="90.5" y="545.5" font-size="12.72" xml:space="preserve">from  the wall</text>
<text x="90.5" y="559.7" font-size="12.72" xml:space="preserve">should be</text>
<text x="90.5" y="574.0" font-size="12.72" xml:space="preserve">over 250mm</text>
<text x="390.9" y="683.9" font-size="12.72" xml:space="preserve">over 250mm</text>
<text font-size="12.8" transform="translate(164.6 637.4) rotate(30.7)">air outlet distance from the wall</text>
<text font-size="12.8" transform="translate(158.2 651.4) rotate(30.7)">should be over 500mm</text>

<!--DIAG1:end-->
</svg>

<!-- ===== Notes ===== -->
<svg width="1083" height="1508" viewBox="0 0 1083 1508" id="noteicon">
  <rect x="88.3" y="737" width="17.6" height="17" rx="2.2" fill="#1a1a1a"/>
  <path d="M92.6 749.6 L102.6 740.6" stroke="#fff" stroke-width="2.1" stroke-linecap="round"/>
  <circle cx="91.6" cy="751.2" r="1" fill="#fff"/>
  <circle cx="92" cy="767.9" r="2.5" fill="#1a1a1a"/>
  <circle cx="92.9" cy="824.2" r="2.5" fill="#1a1a1a"/>
</svg>
<div class="abs note" id="note1" style="left:100.4px;top:759.7px;">Above figure is only a simple presentation
of the unit, it may not match the external
appearance of the unit you purchased.</div>
<div class="abs note" id="note2" style="left:100.4px;top:816.2px;">Installation must be performed in accordance with
the national wiring standards by authorized personnel only.</div>

<!-- ===== Section header 2 ===== -->
<div class="sec" id="sec2" style="left:84.2px;top:870.2px;width:426px;height:30.4px;background:linear-gradient(90deg,#c4c4c4 0%,#d2d2d2 30%,#e6e6e6 60%,#f8f8f8 90%,#ffffff 100%);">
  <div class="bar"></div>
  <div class="line" style="background:linear-gradient(180deg,#1e1e1e 0,#1e1e1e 38%,#6a6a6a 38%,#6a6a6a 100%);"></div>
  <div class="txt" style="left:25px;top:3.2px;font-size:22.4px;line-height:27px;transform:scaleX(1.089);transform-origin:0 0;">Select the installation  locations</div>
</div>

<div class="abs sub" id="subL" style="left:84.5px;top:906.6px;">Location for Installing Indoor Unit</div>

<div class="abs body" id="bodyL" style="left:84.7px;top:932.9px;font-size:19.04px;line-height:23.47px;">1. Where there is no obstacle near
the air outlet andair can be easily
blown to every corner.
2. Where piping and wall hole can
 be easily arranged.
3. Keep the required space from
the unit to the ceiling and wall
according to the installation
diagram on previous page.
4. Where the air filter can be easily
removed.
5. Keep the unit and remote controller 1m or more
apart from television, radio etc.
6. Keep as far as possible from fluorescent lamps.
7. Do not put anything near the air inlet to obstruct it
 from air absorption.
8. Install on a wall that is strong enough to bear the
weight of the unit.</div>

<!-- ===== Small diagram: indoor above outdoor ===== -->
<svg width="1083" height="1508" viewBox="0 0 1083 1508" id="diag2">
<!--DIAG2:start-->
<rect x="422.5" y="948.3" width="22.2" height="84" fill="#fff" stroke="#1a1a1a" stroke-width="1.15"/>
<path d="M422.5 948.3 C410 948.4 397 952.5 386.8 959.4 Q385.4 960.4 385.4 962 L385.4 1011.1 L386.6 1011.6 L386.6 1016.5 Q387 1019.5 389.4 1021.2 C398 1027 410 1032 422.5 1032.3" fill="none" stroke="#1a1a1a" stroke-width="1"/>
<path d="M395.4 954.5 C393.4 970 392.6 985 393 995 L394.5 1016.5 Q394.6 1020 392 1020.4 L389.4 1021" fill="none" stroke="#666" stroke-width="0.9"/>
<path d="M393 1028.2 l5.2 -1.6 l-3.2 -2 M398.2 1031 l5 -1.8 l-3 -1.6" fill="none" stroke="#444" stroke-width="0.8"/>
<path d="M446 968.2 H476.5 Q481.6 968.2 481.6 973.5 V1079.5 Q481.6 1084.9 487 1084.9 H497" fill="none" stroke="#3a3a3a" stroke-width="1.2"/>
<path d="M445 968.2 l7.4 -3 l-1.8 3 l1.8 3Z" fill="#1a1a1a" stroke="#1a1a1a" stroke-width="0.8"/>
<path d="M499.4 1084.9 l-7.4 -3 l1.8 3 l-1.8 3Z" fill="#1a1a1a" stroke="#1a1a1a" stroke-width="0.8"/>
<path d="M443.4 1015.2 H469.5 Q476.4 1015.2 476.4 1022 V1121.5 Q476.4 1128.2 483 1128.2 H499.6" fill="none" stroke="#2a2a2a" stroke-width="1.1"/>
<path d="M443.4 1017.9 H466.8 Q472.7 1017.9 472.7 1024 V1125 Q472.7 1131.4 479 1131.4 H499.6" fill="none" stroke="#2a2a2a" stroke-width="1.1"/>
<path d="M443.4 1016.55 H468.2 Q474.55 1016.55 474.55 1023 V1123.2 Q474.55 1129.8 481 1129.8 H499.6" fill="none" stroke="#bbb" stroke-width="0.8"/>
<rect x="498.7" y="1086.2" width="25.9" height="60.8" fill="#fff" stroke="#1a1a1a" stroke-width="1.1"/>
<path d="M505.2 1147.2 V1153.6 H500.8 M522.6 1147.2 V1153.6 H527.2" fill="none" stroke="#1a1a1a" stroke-width="1.1"/>
<path d="M389.9 1154.6 H507" stroke="#1a1a1a" stroke-width="1.1"/>
<path d="M401.6 1043 V1152" stroke="#1a1a1a" stroke-width="1.1"/>
<path d="M401.6 1041 l-2.6 7.8 l2.6 -1.6 l2.6 1.6Z M401.6 1154 l-2.6 -7.8 l2.6 1.6 l2.6 -1.6Z" fill="#1a1a1a" stroke="#1a1a1a" stroke-width="0.7"/>
<text x="378.8" y="938.2" font-size="15">Indoor unit</text>
<text x="453.1" y="949" font-size="15">Pipe length</text>
<text x="452.1" y="965.7" font-size="15">is 15 meters</text>
<text x="491.1" y="982.8" font-size="15">Max.</text>
<text x="474.8" y="1169.8" font-size="15">Outdoor</text>
<text x="474.8" y="1186.5" font-size="15">unit</text>
<text font-size="15" transform="translate(378.8 1144.3) rotate(-90)" xml:space="preserve">Height  should</text>
<text font-size="15" transform="translate(395.1 1145.3) rotate(-90)">be less than 5m</text>
<!--DIAG2:end-->
</svg>

<!-- ===== Small diagram: outdoor above indoor ===== -->
<svg width="1083" height="1508" viewBox="0 0 1083 1508" id="diag3">
<!--DIAG3:start-->
<rect x="857.7" y="517.7" width="20.2" height="101.2" fill="#fff" stroke="#1a1a1a" stroke-width="1.15"/>
<path d="M857.7 517.7 C846 518 833 523 825 530.5 Q823.8 531.6 823.8 533.5 L823.8 593 L824.8 593.6 L824.8 600 Q825.4 604 827.6 606 C836 613.5 846 618.4 857.7 618.9" fill="none" stroke="#1a1a1a" stroke-width="1"/>
<path d="M832.3 528.3 C830.6 548 830.4 570 830.6 585 L831.6 600 Q831.8 604.4 829.6 604.8 L827.6 605.6" fill="none" stroke="#666" stroke-width="0.9"/>
<path d="M831.5 613.4 l4.6 -1.7 l-2.8 -2 M835.5 616.6 l4.4 -1.8 l-2.6 -1.8" fill="none" stroke="#444" stroke-width="0.8"/>
<rect x="939.4" y="370.3" width="26.5" height="72.7" fill="#fff" stroke="#1a1a1a" stroke-width="1.1"/>
<path d="M943.6 443.2 V448.3 H939 M961.2 443.2 V448.3 H967" fill="none" stroke="#1a1a1a" stroke-width="1.1"/>
<path d="M962.7 449.2 H997.7 M857.7 618.9 H997.7" stroke="#1a1a1a" stroke-width="1.1"/>
<path d="M992.4 451 V617" stroke="#1a1a1a" stroke-width="1.1"/>
<path d="M992.4 449.6 l-2.6 8 l2.6 -1.6 l2.6 1.6Z M992.4 618.4 l-2.6 -8 l2.6 1.6 l2.6 -1.6Z" fill="#1a1a1a" stroke="#1a1a1a" stroke-width="0.7"/>
<path d="M877.9 593 H890 C898.5 593 898 612.6 906 612.6 C909.7 612.6 909.7 609 909.7 606 V434.8 Q909.7 429 915.5 429 H939.4" fill="none" stroke="#1a1a1a" stroke-width="1.1"/>
<path d="M877.9 597.2 H887 C895.5 597.2 895 616.8 906.5 616.8 C913.5 616.8 913.5 611 913.5 607 V438 Q913.5 433.3 918.5 433.3 H939.4" fill="none" stroke="#1a1a1a" stroke-width="1.1"/>
<text x="928.8" y="352.9" font-size="14.5" textLength="64.7" lengthAdjust="spacingAndGlyphs">Outdoor unit</text>
<text x="851.8" y="404.7" font-size="14.5" textLength="70.0" lengthAdjust="spacingAndGlyphs">Pipe length is</text>
<text x="852.4" y="422.3" font-size="14.5" textLength="80.2" lengthAdjust="spacingAndGlyphs">15 meters Max.</text>
<text x="826.5" y="637.1" font-size="14.5" textLength="62.0" lengthAdjust="spacingAndGlyphs">Indoor unit</text>
<text font-size="15" transform="translate(961.6 577.7) scale(0.83 1) rotate(-90)" xml:space="preserve">Height  should</text>
<text font-size="15" transform="translate(973.9 582.8) scale(0.83 1) rotate(-90)">be less than 5m</text>
<!--DIAG3:end-->
</svg>

<!-- ===== Right column ===== -->
<div class="abs body" id="bodyR1" style="left:555.3px;top:160.2px;line-height:23.52px;">9. Install in a place that will not increase operation
noise and vibration.
10. Keep away from direct sunlight and heating
sources.  Do not place flammable materials or
combustion apparatuses on top of the unit.</div>

<div class="abs sub" id="subR" style="left:551.5px;top:281px;">Location for Installing Outdoor Unit</div>

<div class="abs body" id="bodyR2" style="left:552.5px;top:306.2px;line-height:23.49px;">1. Where it is convenient to install and well ventilated.
2. Avoid installing it where flammable gas
could leak.
3. Keep the required distance
apart from the wall.
The pipe length between indoor and
outdoor unit should be not more than
4 meters in factory default status, but it
can go up to maximum 15 meters with
additional refrigerant charge.
5. Keep the outdoor unit away
from greasy dirt, vulcanization
gas exit.
6. Avoid installing it by the
roadside where there is a  risk
of muddy water.
7. A fixed base where it is not subject to increased
 operation noise.
8. Where there is not any blockage of  the air outlet.
9. Avoid installing under direct sunlight, in an aisle
or sideway, or near heat sources and ventilation fans.
 Keep away from flammable materials, thick oil fog,
and wet or uneven places.</div>

<!-- ===== Pipe length table ===== -->
<svg width="1083" height="1508" viewBox="0 0 1083 1508" id="tbl">
<!--TABLE:start-->
<path d="M550.8 871.9 V1005.4 M599.5 871.9 V1005.4 M726.7 871.9 V1005.4 M783.5 871.9 V1005.4 M838.4 871.9 V1005.4 M926.6 871.9 V1005.4 M1020.8 871.9 V1005.4 M550.8 871.9 H1020.8 M550.8 910.5 H1020.8 M550.8 933.6 H1020.8 M550.8 954.6 H1020.8 M550.8 979.3 H1020.8 M550.8 1005.4 H1020.8 " fill="none" stroke="#1d1d1d" stroke-width="1.25" stroke-linecap="square"/>
<text x="553.8" y="888.8" font-size="11.35">Model</text>
<text x="600.4" y="881.6" font-size="11.35">Max. allowed pipe length</text>
<text x="600.4" y="893.9" font-size="11.35">without additional</text>
<text x="600.4" y="907.2" font-size="11.35">refrigerant (m)</text>
<text x="729.7" y="883.0" font-size="11.35">Max. pipe</text>
<text x="729.7" y="895.5" font-size="11.35">length (m)</text>
<text x="786.5" y="883.0" font-size="11.35">Min. pipe</text>
<text x="786.5" y="895.5" font-size="11.35">length (m)</text>
<text x="839.6" y="883.5" font-size="11.35">Limit of Elevation</text>
<text x="839.6" y="895.7" font-size="11.35">Difference H (m)</text>
<text x="928.9" y="881.2" font-size="11.35">Required amount</text>
<text x="928.9" y="893.4" font-size="11.35">of additional</text>
<text x="928.9" y="906.6" font-size="11.35">refrigerant (g/m)</text>
<text x="556.5" y="926.9" font-size="11.60">2.5KW</text>
<text x="663.2" y="926.9" font-size="11.60" text-anchor="middle">10</text>
<text x="753.2" y="926.9" font-size="11.60" text-anchor="middle">20</text>
<text x="812.8" y="926.9" font-size="11.60" text-anchor="middle">20</text>
<text x="880.4" y="926.9" font-size="11.60" text-anchor="middle">10</text>
<text x="968.1" y="926.9" font-size="11.60" text-anchor="middle">20</text>
<text x="556.5" y="948.1" font-size="11.60">3.7KW</text>
<text x="663.2" y="948.1" font-size="11.60" text-anchor="middle">10</text>
<text x="753.2" y="948.1" font-size="11.60" text-anchor="middle">25</text>
<text x="812.8" y="948.1" font-size="11.60" text-anchor="middle">25</text>
<text x="880.4" y="948.1" font-size="11.60" text-anchor="middle">10</text>
<text x="968.1" y="948.1" font-size="11.60" text-anchor="middle">20</text>
<text x="556.5" y="965.9" font-size="11.60">5.1KW</text>
<text x="556.5" y="975.8" font-size="11.60">7.1KW</text>
<text x="663.2" y="970.2" font-size="11.60" text-anchor="middle">10</text>
<text x="753.2" y="970.2" font-size="11.60" text-anchor="middle">30</text>
<text x="812.8" y="970.2" font-size="11.60" text-anchor="middle">30</text>
<text x="880.4" y="970.2" font-size="11.60" text-anchor="middle">20</text>
<text x="968.1" y="970.2" font-size="11.60" text-anchor="middle">30</text>
<text x="556.5" y="990.8" font-size="11.60">8.0KW</text>
<text x="556.5" y="1001.2" font-size="11.60">9.0KW</text>
<text x="663.2" y="995.2" font-size="11.60" text-anchor="middle">10</text>
<text x="753.2" y="995.2" font-size="11.60" text-anchor="middle">40</text>
<text x="812.8" y="995.2" font-size="11.60" text-anchor="middle">40</text>
<text x="880.4" y="995.2" font-size="11.60" text-anchor="middle">20</text>
<text x="968.1" y="995.2" font-size="11.60" text-anchor="middle">40</text>
<!--TABLE:end-->
</svg>

<div class="abs body" id="bodyR3" style="left:551px;top:1012px;">If the height or pipe length is out of the scope of the
table, please consult the dealer.</div>

<div class="abs" id="pageno" style="left:537.2px;top:1420.2px;font-size:14.8px;line-height:17px;">7</div>
<div id="dashL" style="position:absolute;left:514.2px;top:1426.7px;width:15.7px;height:1.8px;background:#1a1a1a;"></div>
<div id="dashR" style="position:absolute;left:553px;top:1426.7px;width:15px;height:1.8px;background:#1a1a1a;"></div>

</body>
</html>
